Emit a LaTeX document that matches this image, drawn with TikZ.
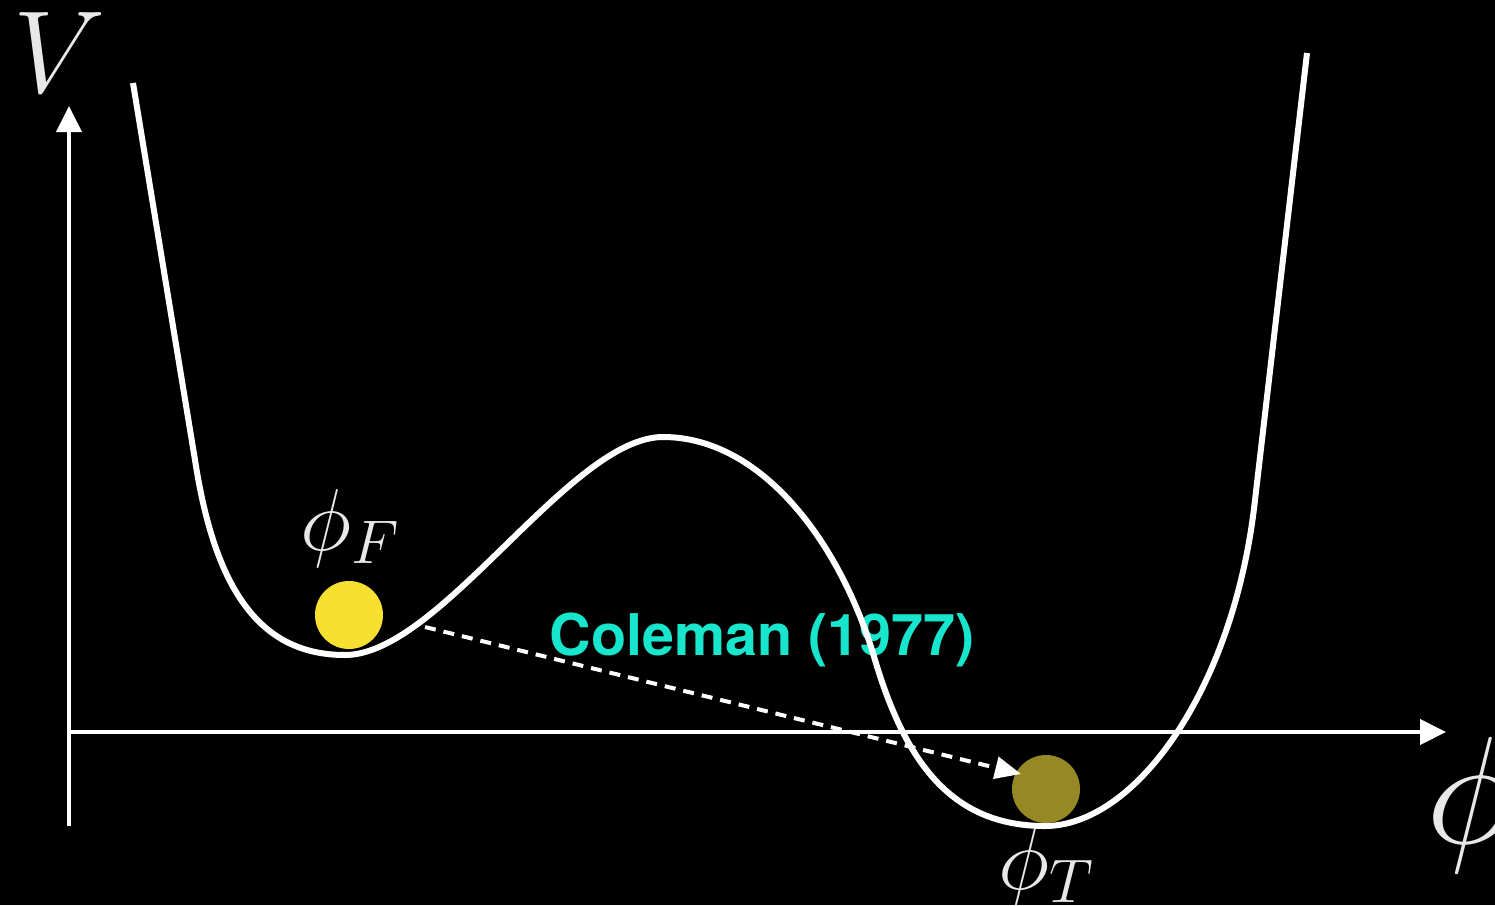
\RequirePackage{fix-cm}
\documentclass[tikz,border=0pt]{standalone}
\usepackage{fontspec}
\newfontfamily\helv{TeX Gyre Heros}
\usetikzlibrary{arrows.meta}
\definecolor{lbl}{RGB}{232,232,232}
\definecolor{cole}{RGB}{23,230,204}
\definecolor{ballF}{RGB}{248,224,48}
\definecolor{ballT}{RGB}{150,136,37}
\tikzset{
  axis/.style={white,line width=4pt,-{Triangle[length=26pt,width=25pt]}},
  pot/.style={white,line width=6pt},
  tunnel/.style={white,line width=4pt,dash pattern=on 11pt off 8pt,-{Triangle[length=26pt,width=22pt]}},
  ball/.style={circle,minimum size=68pt,inner sep=0pt},
  lab/.style={text=lbl,inner sep=0pt}
}
\begin{document}
\begin{tikzpicture}[x=1pt,y=-1pt]
\fill[black] (0,0) rectangle (1495,905);
\useasboundingbox (0,0) rectangle (1495,905);
% axes
\coordinate (o) at (69,826);
\coordinate (ytip) at (69,106);
\coordinate (xo) at (69,732);
\coordinate (xtip) at (1446,732);
\draw[axis] (o) -- (ytip);
\draw[axis] (xo) -- (xtip);
% text
\node[text=cole,inner sep=0pt,anchor=base] (cole) at (762,655) {\helv\bfseries\fontsize{57.5}{57.5}\selectfont Coleman (1977)};
% potential
\draw[pot] (133,83) -- (195,460)
  .. controls (215,590) and (260,655) .. (345,655)
  .. controls (440,655) and (570,437) .. (663,437)
  .. controls (760,437) and (840,540) .. (875,660)
  .. controls (905,760) and (950,826) .. (1045,826)
  .. controls (1135,826) and (1234,690) .. (1255,500)
  -- (1307,53);
% balls
\node[ball,fill=ballF] (bF) at (349,615) {};
\node[ball,fill=ballT] (bT) at (1046,789) {};
% tunnelling arrow
\coordinate (ts) at (425,627);
\coordinate (te) at (1021,774);
\draw[tunnel] (ts) -- (te);
% labels
\node[lab] (V) at (60,53) {\fontsize{117}{117}\selectfont$V$};
\node[lab] (phiF) at (350,528) {\fontsize{88}{88}\selectfont$\phi_F$};
\node[lab] (phiT) at (1046,867) {\fontsize{88}{88}\selectfont$\phi_T$};
\node[lab] (phi) at (1471,805) {\fontsize{153}{153}\selectfont$\phi$};
\end{tikzpicture}
\end{document}
